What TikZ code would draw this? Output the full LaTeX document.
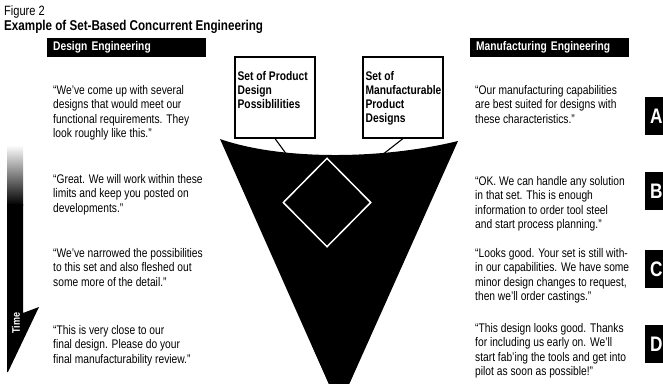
\documentclass[tikz,border=0pt]{standalone}
\usepackage{fontspec}
\setmainfont{Liberation Sans}[FakeStretch=0.82]
\usetikzlibrary{shapes.geometric}

\begin{document}
\begin{tikzpicture}[x=1pt,y=-1pt,
  banner/.style={fill=black,text=white,font=\bfseries\fontsize{12.5}{14}\selectfont,
    anchor=north west,text width=147pt,inner xsep=6pt,minimum height=19pt,align=left},
  quote text/.style={anchor=north west,inner sep=0pt,align=left,
    font=\fontsize{12.5}{14.5}\selectfont},
  set box/.style={draw,line width=1.1pt,minimum width=80pt,minimum height=81pt,inner sep=0pt},
  set label/.style={anchor=north west,align=left,inner xsep=3pt,inner ysep=0pt,yshift=-15pt,
    font=\bfseries\fontsize{12.5}{14}\selectfont},
  stage/.style={fill=black,text=white,font=\bfseries\fontsize{21}{21}\selectfont,
    anchor=north west,minimum height=38pt,text width=16pt,inner xsep=5pt,align=left},
  link/.style={line width=1.1pt}]

  \useasboundingbox (0,0) rectangle (663,383);
  \clip (0,0) rectangle (663,383);

  % heading
  \node[anchor=base west,inner sep=0pt,font=\fontsize{13.5}{13.5}\selectfont] (fig) at (4,15) {Figure 2};
  \node[anchor=base west,inner sep=0pt,font=\bfseries\fontsize{14.2}{14.2}\selectfont] (title) at (4,30)
    {Example of Set-Based Concurrent Engineering};

  \node[banner] (design) at (47,38) {Design Engineering};
  \node[banner] (manuf)  at (470,38) {Manufacturing Engineering};

  % the funnel
  \fill (220,139) .. controls (280,160) and (380,160) .. (458,141) -- (339,407) -- cycle;
  \node[diamond,draw=white,line width=1.5pt,minimum width=88pt,minimum height=89pt,inner sep=0pt]
    (space) at (327,202.5) {};

  \node[set box,label={[set label]north west:{Set of Product\\Design\\Possiblilities}}]
    (prodset) at (275,97.5) {};
  \node[set box,label={[set label]north west:{Set of\\Manufacturable\\Product\\Designs}}]
    (mfgset) at (403,97.5) {};
  \coordinate (prodtip) at (287,155);
  \coordinate (mfgtip)  at (382,155);
  \draw[link] (prodset.south) -- (prodtip);
  \draw[link] (mfgset.south) -- (mfgtip);

  % time arrow
  \shade[top color=white,bottom color=black] (7,145) rectangle (23,205);
  \fill (7,204) -- (23,204) -- (23,313) -- (39,307) -- (8,372) -- (7,372) -- cycle;
  \node[rotate=90,text=white,font=\bfseries\fontsize{11}{11}\selectfont] (time) at (16,323) {Time};

  % design side
  \node[quote text] (d1) at (53,85)  {``We've come up with several\\designs that would meet our\\functional requirements. They\\look roughly like this.''};
  \node[quote text] (d2) at (53,174) {``Great. We will work within these\\limits and keep you posted on\\developments.''};
  \node[quote text] (d3) at (53,248) {``We've narrowed the possibilities\\to this set and also fleshed out\\some more of the detail.''};
  \node[quote text] (d4) at (53,325) {``This is very close to our\\final design. Please do your\\final manufacturability review.''};

  % manufacturing side
  \node[quote text] (m1) at (475,85)  {``Our manufacturing capabilities\\are best suited for designs with\\these characteristics.''};
  \node[quote text] (m2) at (475,176) {``OK. We can handle any solution\\in that set. This is enough\\information to order tool steel\\and start process planning.''};
  \node[quote text] (m3) at (475,248) {``Looks good. Your set is still with-\\in our capabilities. We have some\\minor design changes to request,\\then we'll order castings.''};
  \node[quote text] (m4) at (475,323) {``This design looks good. Thanks\\for including us early on. We'll\\start fab'ing the tools and get into\\pilot as soon as possible!''};

  \node[stage] (a) at (645,97)  {A};
  \node[stage] (b) at (645,172) {B};
  \node[stage] (c) at (645,250) {C};
  \node[stage] (d) at (645,325) {D};
\end{tikzpicture}
\end{document}
